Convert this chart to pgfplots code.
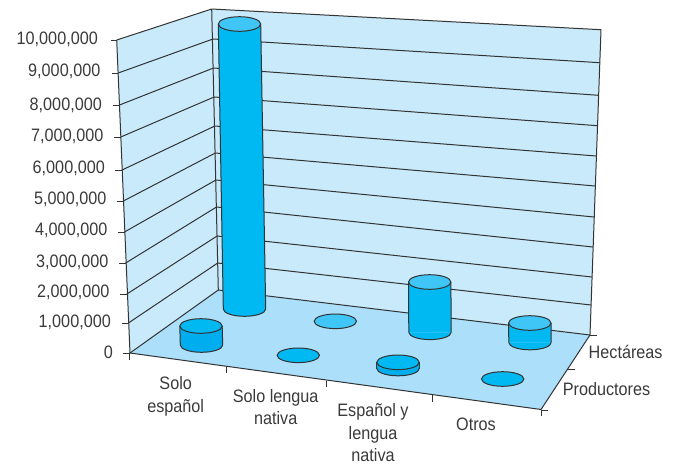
\documentclass[border=0pt]{standalone}
\usepackage{pgfplots}
\pgfplotsset{compat=1.18}
\usepackage{fontspec}
\setmainfont[FakeStretch=0.9]{Liberation Sans}
\definecolor{wall}{HTML}{C8EAFB}
\definecolor{floorc}{HTML}{ABDFFA}
\definecolor{lnc}{HTML}{333333}
\definecolor{txt}{HTML}{3A3A3A}
\definecolor{sideA}{HTML}{00B9F2}
\definecolor{topA}{HTML}{40C6F6}
\definecolor{sideB}{HTML}{00AEEF}
\definecolor{topB}{HTML}{00B9F2}
\pgfdeclareplotmark{ell}{%
  \pgfpathellipse{\pgfpointorigin}{\pgfqpoint{21.2pt}{0pt}}{\pgfqpoint{0pt}{7.3pt}}%
  \pgfusepathqfillstroke}
\pgfdeclareplotmark{ellb}{%
  \pgfpathmoveto{\pgfqpoint{-21.2pt}{0pt}}%
  \pgfpathcurveto{\pgfqpoint{-21.2pt}{-4.03pt}}{\pgfqpoint{-11.7pt}{-7.3pt}}{\pgfqpoint{0pt}{-7.3pt}}%
  \pgfpathcurveto{\pgfqpoint{11.7pt}{-7.3pt}}{\pgfqpoint{21.2pt}{-4.03pt}}{\pgfqpoint{21.2pt}{0pt}}%
  \pgfusepathqfillstroke}
% #1 x top, #2 y top, #3 x bottom, #4 y bottom, #5..#8 left/right edges top, left/right edges bottom
\newcommand{\defcyl}[3]{%
  \expandafter\newcommand\csname #1\endcsname[8]{%
  \addplot[fill=#2,draw=none] coordinates {(##5,##2)(##6,##2)(##8,##4)(##7,##4)} --cycle;
  \addplot[lnc,line width=1pt] coordinates {(##5,##2)(##7,##4)};
  \addplot[lnc,line width=1pt] coordinates {(##6,##2)(##8,##4)};
  \addplot[only marks,mark=ellb,mark options={fill=#2,draw=lnc,line width=1pt}] coordinates {(##3,##4)};
  \addplot[only marks,mark=ell,mark options={fill=#3,draw=lnc,line width=1pt}] coordinates {(##1,##2)};
  }}
\defcyl{cylA}{sideA}{topA}
\defcyl{cylB}{sideB}{topB}
\newcommand{\disc}[3]{%
  \addplot[only marks,mark=ell,mark options={fill=#3,draw=lnc,line width=1pt}] coordinates {(#1,#2)};
}
\newcommand{\seg}[4]{\addplot[lnc,line width=1pt] coordinates {(#1,#2)(#3,#4)};}
\newcommand{\lf}{\fontsize{18}{20}\selectfont}
\newcommand{\ylab}[3]{\node[anchor=base east,inner sep=0pt,text=txt,font=\lf] at (axis cs:#1,#2) {#3};}
\newcommand{\clab}[3]{\node[anchor=base,inner sep=0pt,text=txt,font=\lf] at (axis cs:#1,#2) {#3};}
\begin{document}
\begin{tikzpicture}
\begin{axis}[
  at={(0,0)},anchor=south west,
  scale only axis,width=675pt,height=464pt,
  xmin=0,xmax=675,ymin=0,ymax=464,y dir=reverse,
  hide axis,clip=false,
  every axis plot/.append style={forget plot},
]
% walls
\addplot[fill=wall,draw=none] coordinates {(116.7,40)(211.7,9)(218.3,290)(130,353)} --cycle;
\addplot[fill=wall,draw=none] coordinates {(211.7,9)(601,29.7)(590,335)(218.3,290)} --cycle;
% floor
\addplot[fill=floorc,draw=none] coordinates {(130,353)(218.3,290)(590,335)(541,409.5)} --cycle;
% gridlines: left wall then back wall, one per 1,000,000
\seg{116.7}{40}{211.7}{9}\seg{211.7}{9}{601}{29.7}
\seg{118.2}{73}{213}{39}\seg{213}{39}{599.8}{62.7}
\seg{119.5}{105}{213.5}{68}\seg{213.5}{68}{598.5}{95.3}
\seg{120.8}{137}{214.1}{97}\seg{214.1}{97}{597.4}{125.7}
\seg{122.1}{170}{214.8}{126}\seg{214.8}{126}{596.2}{156}
\seg{123.4}{201}{215.3}{153}\seg{215.3}{153}{595.1}{186}
\seg{124.5}{232}{215.9}{180}\seg{215.9}{180}{594}{217}
\seg{125.7}{263}{216.5}{207}\seg{216.5}{207}{592.9}{247}
\seg{126.9}{294}{217.1}{236}\seg{217.1}{236}{592}{277}
\seg{128.4}{323}{217.7}{263}\seg{217.7}{263}{591}{305}
\seg{130}{353}{218.3}{290}\seg{218.3}{290}{590}{335}
% frame
\seg{116.7}{40}{130}{353}
\seg{211.7}{9}{218.3}{290}
\seg{601}{29.7}{590}{335}
\seg{130}{353}{541}{409.5}
\seg{590}{335}{541}{409.5}
% y ticks
\seg{110.5}{40}{116.7}{40}\seg{111.5}{73}{118.2}{73}\seg{112.5}{105}{119.5}{105}
\seg{113.5}{137}{120.8}{137}\seg{115}{170}{122.1}{170}\seg{116.5}{201}{123.4}{201}
\seg{118}{232}{124.5}{232}\seg{119}{263}{125.7}{263}\seg{120}{294}{126.9}{294}
\seg{121.5}{323}{128.4}{323}\seg{122.5}{353}{130}{353}
% front ticks
\seg{129.5}{353}{129.5}{360}\seg{226}{366.5}{226}{373}\seg{326.7}{380.5}{326.7}{387.3}
\seg{432}{395}{432}{401.5}\seg{541}{409.5}{541}{416}
% side ticks
\seg{590}{335}{597}{335}\seg{568}{369}{575}{369}\seg{541}{410}{547.5}{410}
% back row: Hectareas
\cylA{239.5}{24}{244.5}{309}{218.3}{260.7}{223.3}{265.7}
\disc{335.3}{321.3}{topA}
\cylA{429.7}{282}{430}{332.3}{408.5}{450.9}{408.8}{451.2}
\cylA{529.8}{323}{530}{342.5}{508.6}{551}{508.8}{551.2}
% front row: Productores
\cylB{201}{326}{201.5}{345}{179.8}{222.2}{180.3}{222.7}
\disc{298.3}{355.3}{topB}
\cylB{398}{362.3}{398}{368.5}{376.8}{419.2}{376.8}{419.2}
\disc{502.7}{379}{topB}
% y labels
\ylab{98}{44}{10,000,000}
\ylab{100.5}{76}{9,000,000}
\ylab{102}{110}{8,000,000}
\ylab{103.5}{141}{7,000,000}
\ylab{105}{173}{6,000,000}
\ylab{106.5}{204}{5,000,000}
\ylab{107.5}{235}{4,000,000}
\ylab{108.5}{267}{3,000,000}
\ylab{109.5}{297}{2,000,000}
\ylab{111}{327}{1,000,000}
\ylab{113}{358}{0}
% categories
\clab{175.7}{389}{Solo}
\clab{175.7}{412}{español}
\clab{275.7}{402}{Solo lengua}
\clab{275.7}{424}{nativa}
\clab{373}{416}{Español y}
\clab{373}{439}{lengua}
\clab{373}{461.5}{nativa}
\clab{476}{430}{Otros}
\node[anchor=base west,inner sep=0pt,text=txt,font=\lf] at (axis cs:588.5,358) {Hectáreas};
\node[anchor=base west,inner sep=0pt,text=txt,font=\lf] at (axis cs:562.7,395) {Productores};
\end{axis}
\useasboundingbox (0,0) rectangle (675pt,464pt);
\end{tikzpicture}
\end{document}
